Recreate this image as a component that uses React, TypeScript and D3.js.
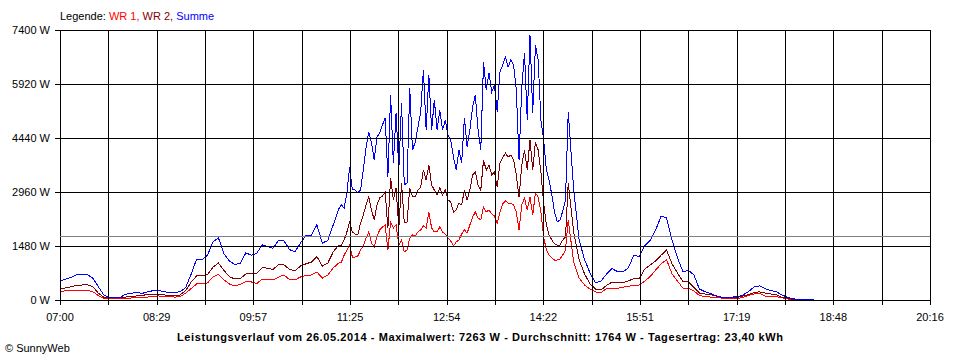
import React from 'react';
import * as d3 from 'd3';

// Tagesverlauf 26.05.2014 (W)
// Grobwerte alle 5 Minuten ab 07:00, im unruhigen Mittagsbereich
// (11:15 - 14:45) liegen Feinwerte alle 2,5 Minuten vor.
const stepMinutes = 5;
const feinStart = 255; // Minuten nach 07:00 -> 11:15
const feinStep = 2.5;
const spanMinutes = 796; // 07:00 .. 20:16

const summe = [520,570,620,685,700,700,600,370,140,60,60,70,160,180,210,180,220,255,265,230,200,200,230,340,710,1120,1110,1230,1600,1700,1270,1070,970,1010,1290,1230,1280,1510,1460,1420,1640,1620,1380,1320,1560,1770,1780,2060,1560,1630,2060,2520,2740,3430,3010,3010,4250,4520,4490,4800,4390,4930,4110,3210,5480,4330,5070,5890,5070,4930,4880,4390,3950,4110,4800,4660,5480,4930,6170,5760,5480,6520,6520,6360,4930,5760,7263,6300,4930,3840,2880,2170,2410,5020,3020,1640,1100,740,470,520,710,860,780,770,880,1230,1190,1480,1640,1920,2300,2250,1640,1150,780,810,690,300,230,180,120,80,75,80,90,140,230,360,385,315,260,230,150,80,35,20,20,15,8];
const wr2 = [300,330,360,400,410,420,370,190,80,55,55,55,80,95,110,125,150,155,150,140,120,110,140,260,490,660,670,700,900,1010,810,640,575,590,710,740,740,890,870,840,970,960,840,795,930,990,1040,1190,930,1010,1320,1530,1640,1860,1840,2110,2660,2490,2600,2850,2740,3230,2330,2140,2880,2850,3100,3620,3150,3100,3020,2690,2410,2600,2820,3150,3430,3290,3620,3480,3290,3890,3970,3780,3020,3970,4330,4110,3700,2060,1640,1510,1640,3150,1860,1100,710,440,300,275,400,490,470,480,520,590,590,850,960,1070,1230,1370,990,740,500,500,345,190,165,155,110,70,65,70,75,110,150,205,225,190,165,150,80,55,20,8];
const wr1 = [230,250,260,270,270,265,230,120,45,35,35,35,45,55,70,75,80,95,110,100,90,80,90,190,315,440,440,470,630,700,550,440,385,425,505,495,450,575,560,550,630,685,560,550,630,670,685,770,600,685,880,1010,1180,1370,1180,1340,1700,1560,1640,2030,1780,2110,1640,1340,1640,1750,1920,2360,1970,1920,1920,1640,1480,1640,1920,2060,2360,2250,2440,2380,2140,2600,2690,2580,2060,2690,2820,2740,2330,1370,1180,1100,1230,2000,1040,600,410,300,220,200,315,320,320,350,375,400,410,520,645,820,990,1100,710,520,320,320,245,125,95,80,70,55,35,30,40,75,125,165,185,110,90,90,70,30,20];

const summeFein = [2494,2604,2521,2933,3645,3015,3015,2933,3015,3563,4166,4604,4303,3837,4467,4577,4796,4988,3371,5618,3755,5125,3563,5399,3152,3207,5810,4111,4330,4741,5153,6304,4659,6167,4659,5481,4659,5207,4659,4933,4522,4385,3919,3563,4111,3755,4988,4193,4659,5290,5618,4659,4111,6523,5755,6221,5701,5892,5153,6249,6441,6660,6386,6578,6441,5755,3837,5838,6770,4933,7263,5125,6989,6578,4933,4385,3563,3289,2878,2412,2138,2193,2439,2741,5153];
const wr2Fein = [1507,1507,1644,1864,2138,1864,1809,1781,2110,2330,2604,2823,2467,2193,2604,2796,2850,2960,1973,3344,2741,3070,1973,3207,2110,2138,3070,2823,2823,3015,3097,3563,3289,3700,3152,3015,2878,3070,2878,3015,2741,2686,2412,2467,2658,2604,3015,2741,3015,3426,3508,3152,3015,3837,3563,3700,3426,3508,3097,3755,3892,4029,3919,3974,3837,3426,2823,3700,4111,3563,4385,3563,4330,4111,3508,2658,2056,1781,1644,1535,1507,1507,1644,1727,3207];
const wr1Fein = [1014,1041,1233,1370,1507,1178,1178,1206,1370,1480,1699,1864,1562,1453,1754,1918,2001,2056,1370,2138,1973,2056,1507,1644,1316,1370,1699,1781,1754,1864,1918,2028,1973,2412,1973,1864,1864,2001,1864,1809,1699,1617,1480,1590,1644,1809,1918,1836,2056,2275,2412,2247,2193,2549,2412,2467,2357,2302,2110,2412,2631,2713,2658,2658,2604,2412,1918,2604,2796,2467,2823,2330,2933,2823,2412,1727,1370,1233,1151,1096,1096,1124,1233,1370,2193];

const durchschnitt = 1764;
const yTicks = [0, 1480, 2960, 4440, 5920, 7400];
const xTickLabels = ['07:00','08:29','09:57','11:25','12:54','14:22','15:51','17:19','18:48','20:16'];
const gridCount = 18;

const title = 'Leistungsverlauf vom 26.05.2014 - Maximalwert: 7263 W - Durchschnitt: 1764 W - Tagesertrag: 23,40 kWh';

type Pt = { t: number; v: number };

// grobe und feine Werte zu einer Zeitreihe zusammenlegen
const merge = (grob: number[], fein: number[]): Pt[] => {
  const feinEnde = feinStart + (fein.length - 1) * feinStep;
  const a = grob.map((v, i) => ({ t: i * stepMinutes, v }))
    .filter(p => p.t < feinStart || p.t > feinEnde);
  const b = fein.map((v, k) => ({ t: feinStart + k * feinStep, v }));
  return a.concat(b).sort((p, q) => p.t - q.t);
};

export default function App() {
  const width = 960, height = 360;
  const left = 60, right = 930, top = 30, bottom = 300;
  const font = '"Liberation Sans", Arial, sans-serif';

  const x = d3.scaleLinear().domain([0, spanMinutes]).range([left, right]);
  const y = d3.scaleLinear().domain([0, 7400]).range([bottom, top]);

  const line = d3.line<Pt>()
    .x(d => x(d.t))
    .y(d => y(d.v));

  const gridX = d3.range(gridCount + 1).map(k => x(k * spanMinutes / gridCount));

  const series = [
    { name: 'WR 1', data: merge(wr1, wr1Fein), color: '#ff0000' },
    { name: 'WR 2', data: merge(wr2, wr2Fein), color: '#800000' },
    { name: 'Summe', data: merge(summe, summeFein), color: '#0000ff' },
  ];

  return (
    <svg width={width} height={height} style={{ position: 'absolute', left: 0, top: 0, background: '#fff' }}
      fontFamily={font}>
      <text x={left} y={20} fontSize={11}>
        <tspan fill="#000">Legende: </tspan>
        <tspan fill="#ff0000">WR 1, </tspan>
        <tspan fill="#800000">WR 2, </tspan>
        <tspan fill="#0000ff">Summe</tspan>
      </text>

      {series.map(s => (
        <path key={s.name} d={line(s.data) || ''} fill="none" stroke={s.color} strokeWidth={1}
          shapeRendering="crispEdges" />
      ))}

      <g shapeRendering="crispEdges" stroke="#000" strokeWidth={1}>
        {yTicks.map(t => (
          <line key={t} x1={left - 5} x2={right} y1={Math.round(y(t)) + 0.5} y2={Math.round(y(t)) + 0.5} />
        ))}
        {gridX.map((gx, k) => (
          <line key={k} x1={Math.round(gx) + 0.5} x2={Math.round(gx) + 0.5} y1={top} y2={bottom + 5} />
        ))}
      </g>

      <line x1={left} x2={right} y1={Math.round(y(durchschnitt)) + 0.5} y2={Math.round(y(durchschnitt)) + 0.5}
        stroke="#808080" strokeWidth={1} shapeRendering="crispEdges" />

      {yTicks.map(t => (
        <text key={t} x={left - 10} y={y(t) + 4} fontSize={11} textAnchor="end">{t} W</text>
      ))}
      {xTickLabels.map((lab, k) => (
        <text key={lab} x={x(k * spanMinutes / (xTickLabels.length - 1))} y={321} fontSize={11} textAnchor="middle">{lab}</text>
      ))}

      <text x={480} y={341} fontSize={11} fontWeight="bold" textAnchor="middle" textLength={606} lengthAdjust="spacing">{title}</text>
      <text x={5} y={352} fontSize={11}>© SunnyWeb</text>
    </svg>
  );
}
